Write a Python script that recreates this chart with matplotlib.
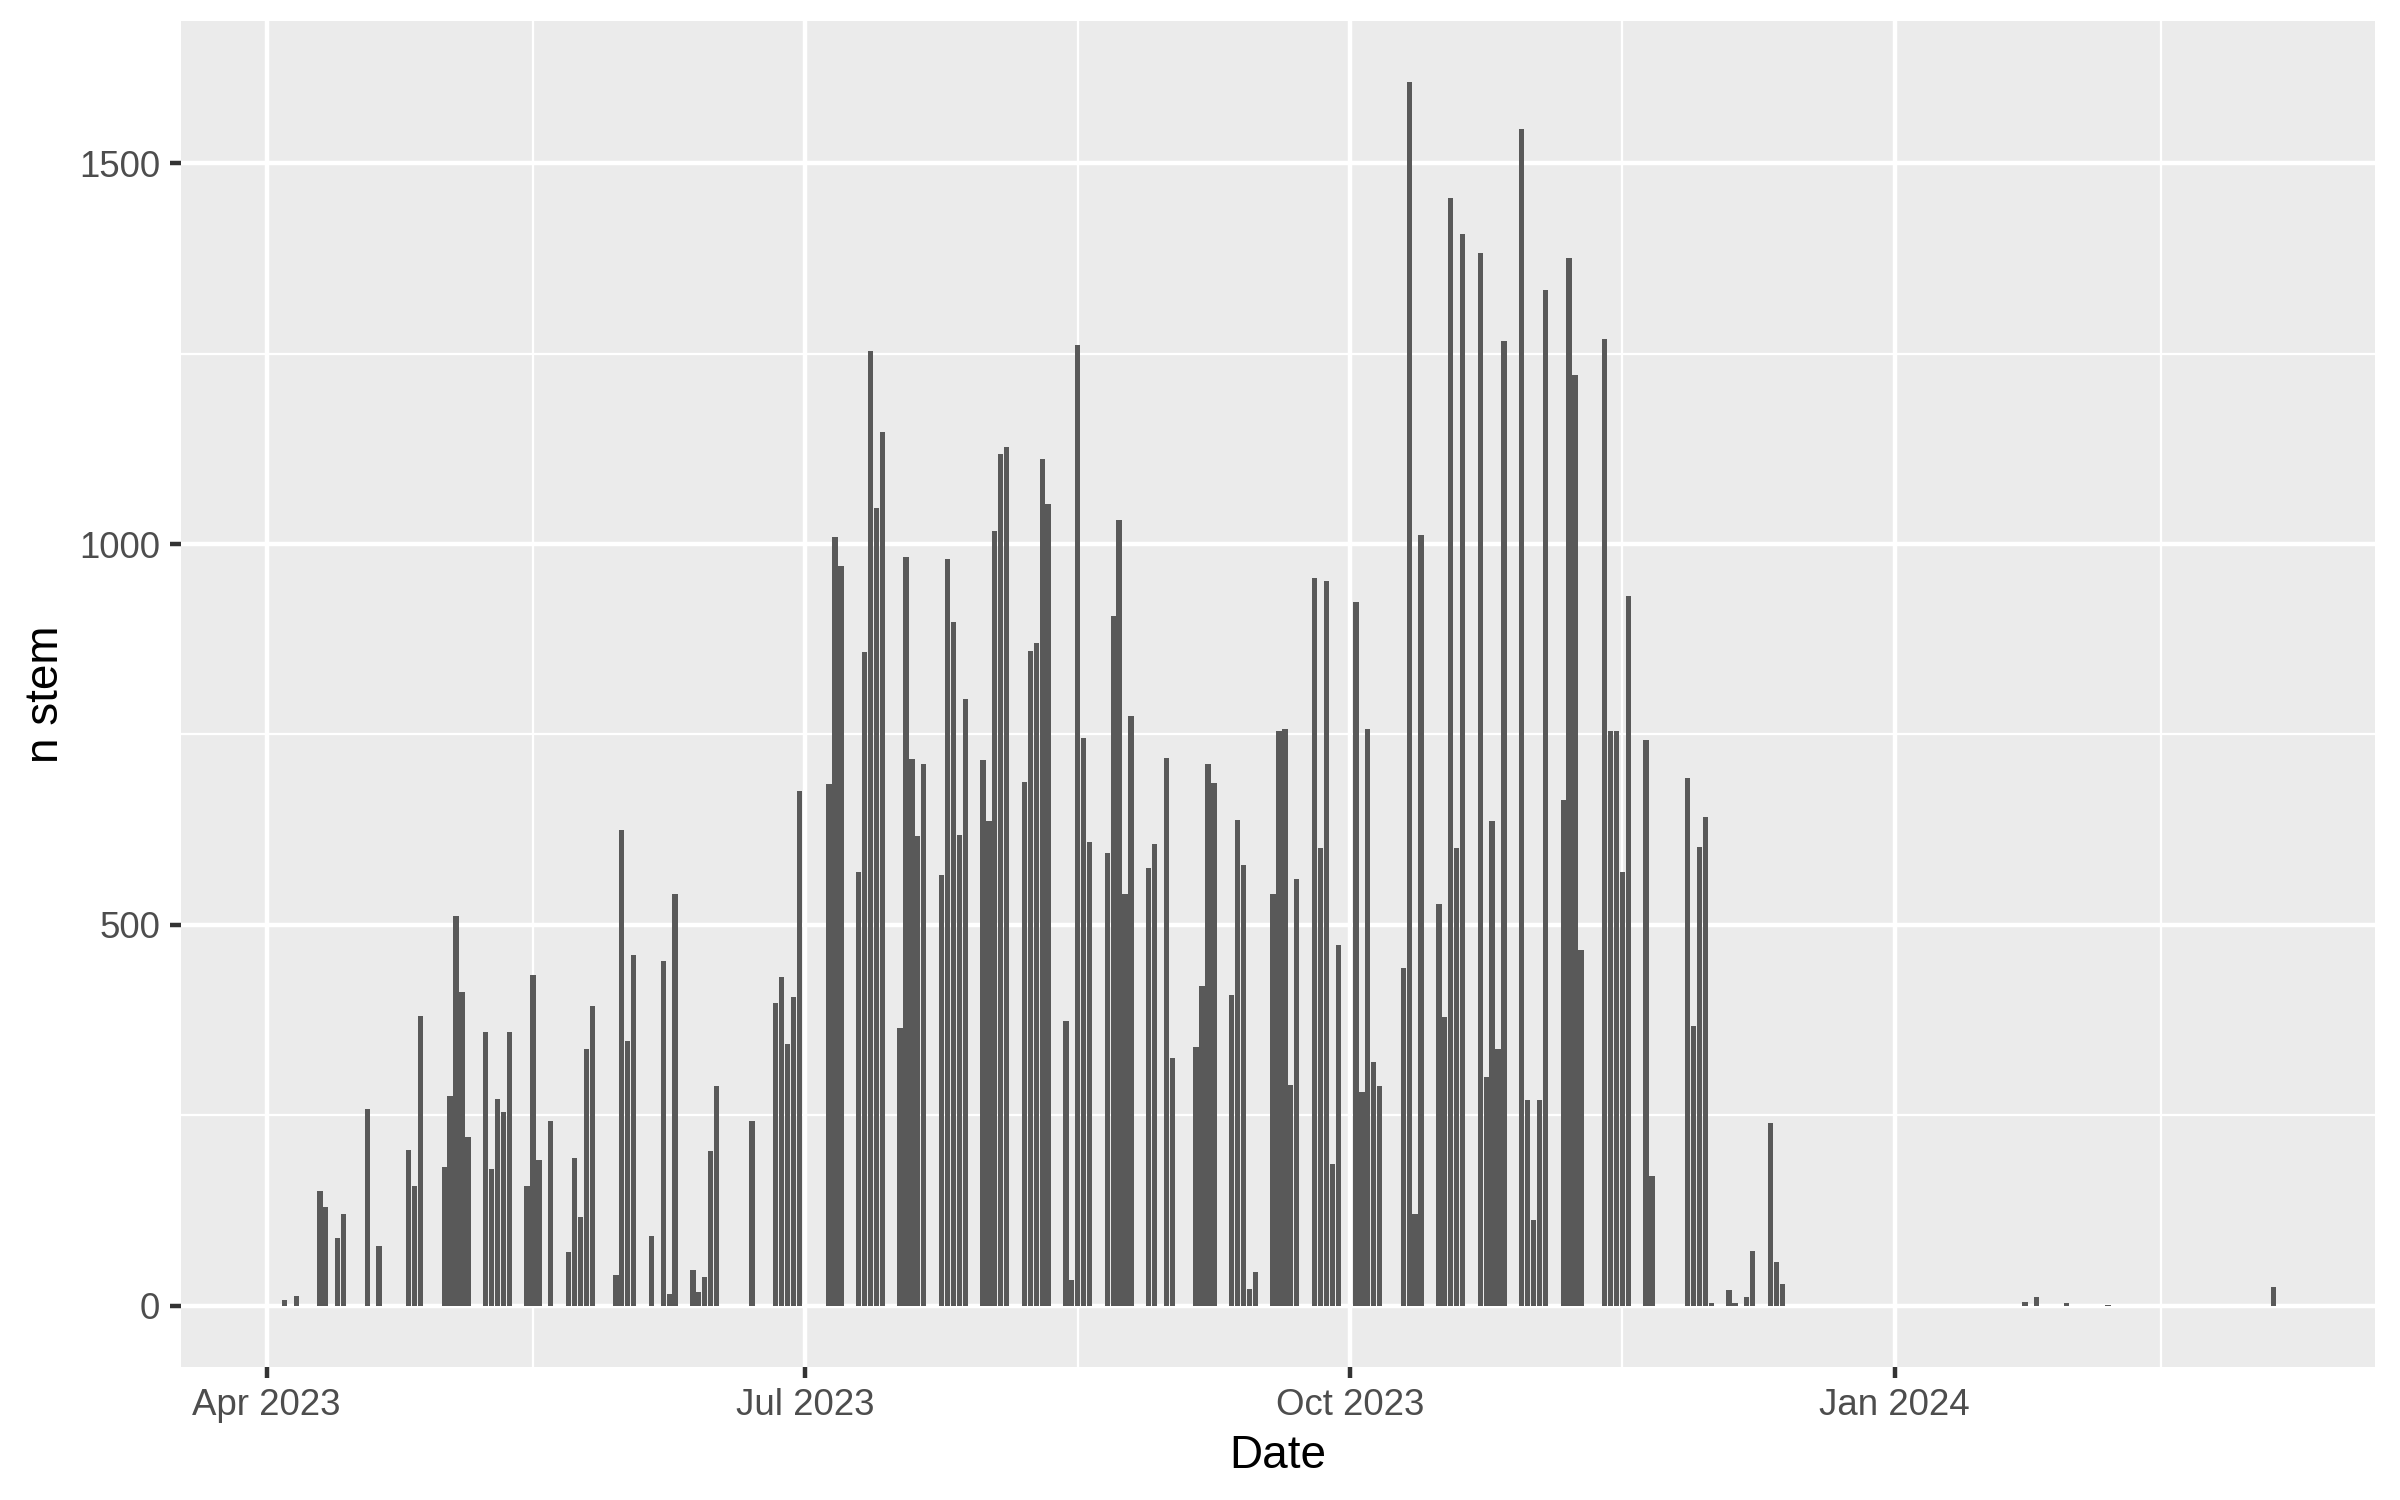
import pandas as pd
import matplotlib
matplotlib.use('Agg')
import matplotlib.pyplot as plt
import matplotlib.dates as mdates
from matplotlib.ticker import FixedLocator

# daily stem counts
dates = [
    '2023-04-04', '2023-04-06', '2023-04-10', '2023-04-11', '2023-04-13', '2023-04-14',
    '2023-04-18', '2023-04-20', '2023-04-25', '2023-04-26', '2023-04-27',
    '2023-05-01', '2023-05-02', '2023-05-03', '2023-05-04', '2023-05-05',
    '2023-05-08', '2023-05-09', '2023-05-10', '2023-05-11', '2023-05-12',
    '2023-05-15', '2023-05-16', '2023-05-17', '2023-05-19',
    '2023-05-22', '2023-05-23', '2023-05-24', '2023-05-25', '2023-05-26',
    '2023-05-30', '2023-05-31', '2023-06-01', '2023-06-02',
    '2023-06-05', '2023-06-07', '2023-06-08', '2023-06-09',
    '2023-06-12', '2023-06-13', '2023-06-14', '2023-06-15', '2023-06-16',
    '2023-06-22', '2023-06-26', '2023-06-27', '2023-06-28', '2023-06-29', '2023-06-30',
    '2023-07-05', '2023-07-06', '2023-07-07',
    '2023-07-10', '2023-07-11', '2023-07-12', '2023-07-13', '2023-07-14',
    '2023-07-17', '2023-07-18', '2023-07-19', '2023-07-20', '2023-07-21',
    '2023-07-24', '2023-07-25', '2023-07-26', '2023-07-27', '2023-07-28',
    '2023-07-31', '2023-08-01', '2023-08-02', '2023-08-03', '2023-08-04',
    '2023-08-07', '2023-08-08', '2023-08-09', '2023-08-10', '2023-08-11',
    '2023-08-14', '2023-08-15', '2023-08-16', '2023-08-17', '2023-08-18',
    '2023-08-21', '2023-08-22', '2023-08-23', '2023-08-24', '2023-08-25',
    '2023-08-28', '2023-08-29', '2023-08-31', '2023-09-01',
    '2023-09-05', '2023-09-06', '2023-09-07', '2023-09-08',
    '2023-09-11', '2023-09-12', '2023-09-13', '2023-09-14', '2023-09-15',
    '2023-09-18', '2023-09-19', '2023-09-20', '2023-09-21', '2023-09-22',
    '2023-09-25', '2023-09-26', '2023-09-27', '2023-09-28', '2023-09-29',
    '2023-10-02', '2023-10-03', '2023-10-04', '2023-10-05', '2023-10-06',
    '2023-10-10', '2023-10-11', '2023-10-12', '2023-10-13',
    '2023-10-16', '2023-10-17', '2023-10-18', '2023-10-19', '2023-10-20',
    '2023-10-23', '2023-10-24', '2023-10-25', '2023-10-26', '2023-10-27',
    '2023-10-30', '2023-10-31', '2023-11-01', '2023-11-02', '2023-11-03',
    '2023-11-06', '2023-11-07', '2023-11-08', '2023-11-09',
    '2023-11-13', '2023-11-14', '2023-11-15', '2023-11-16', '2023-11-17',
    '2023-11-20', '2023-11-21',
    '2023-11-27', '2023-11-28', '2023-11-29', '2023-11-30', '2023-12-01',
    '2023-12-04', '2023-12-05', '2023-12-07', '2023-12-08',
    '2023-12-11', '2023-12-12', '2023-12-13',
    '2024-01-23', '2024-01-25', '2024-01-30', '2024-02-06', '2024-03-05',
]
n_stem = [
    8, 13, 151, 130, 89, 120,
    258, 78, 204, 157, 380,
    182, 276, 512, 412, 221,
    359, 179, 271, 254, 359,
    157, 434, 192, 242,
    70, 194, 116, 337, 393,
    41, 624, 348, 460,
    92, 453, 15, 540,
    47, 18, 38, 203, 288,
    242, 398, 432, 343, 405, 676,
    685, 1009, 971,
    570, 858, 1253, 1047, 1147,
    364, 983, 718, 617, 711,
    565, 980, 897, 618, 796,
    716, 637, 1017, 1118, 1127,
    687, 859, 870, 1112, 1052,
    374, 34, 1261, 745, 609,
    595, 905, 1032, 540, 774,
    575, 606, 719, 325,
    340, 420, 711, 686,
    408, 638, 579, 22, 44,
    540, 755, 757, 290, 560,
    956, 601, 951, 186, 474,
    924, 281, 757, 320, 288,
    443, 1606, 120, 1012,
    528, 379, 1454, 601, 1407,
    1382, 300, 636, 337, 1267,
    1545, 270, 113, 270, 1334,
    664, 1376, 1222, 467,
    1269, 754, 755, 569, 932,
    743, 170,
    693, 367, 602, 641, 3,
    21, 3, 12, 72,
    240, 58, 29,
    5, 11, 4, 1, 24,
]

x_breaks = ['2023-04-01', '2023-07-01', '2023-10-01', '2024-01-01']
x_minor = ['2023-05-16', '2023-08-16', '2023-11-16', '2024-02-15']
y_breaks = [0, 500, 1000, 1500]
y_minor = [250, 750, 1250]

df = pd.DataFrame({'date': pd.to_datetime(dates), 'n': n_stem})

plt.rcParams['font.family'] = ['Liberation Sans', 'DejaVu Sans']

fig = plt.figure(figsize=(8, 5), dpi=300)
ax = fig.add_axes([0.0753, 0.0887, 0.9143, 0.897])
ax.set_facecolor('#EBEBEB')
for s in ax.spines.values():
    s.set_visible(False)

ax.bar(df['date'], df['n'], width=0.9, color='#595959', zorder=3)

ax.set_xlim(pd.Timestamp('2023-03-17 12:00'), pd.Timestamp('2024-03-22 03:00'))
ax.set_ylim(-80.3, 1686)

ax.xaxis.set_major_locator(FixedLocator(mdates.date2num(pd.to_datetime(x_breaks))))
ax.xaxis.set_minor_locator(FixedLocator(mdates.date2num(pd.to_datetime(x_minor))))
ax.xaxis.set_major_formatter(mdates.DateFormatter('%b %Y'))
ax.set_yticks(y_breaks)
ax.set_yticks(y_minor, minor=True)

ax.grid(which='major', color='white', lw=1.07)
ax.grid(which='minor', color='white', lw=0.53)
ax.set_axisbelow(True)

ax.tick_params(which='major', length=2.75, width=1.07, color='#333333',
               labelcolor='#4D4D4D', labelsize=8.8, pad=2.2)
ax.tick_params(which='minor', length=0)

ax.set_xlabel('Date', fontsize=11, color='black', labelpad=2.75)
ax.set_ylabel('n stem', fontsize=11, color='black', labelpad=2.75)

fig.savefig('out.png', dpi=300)
